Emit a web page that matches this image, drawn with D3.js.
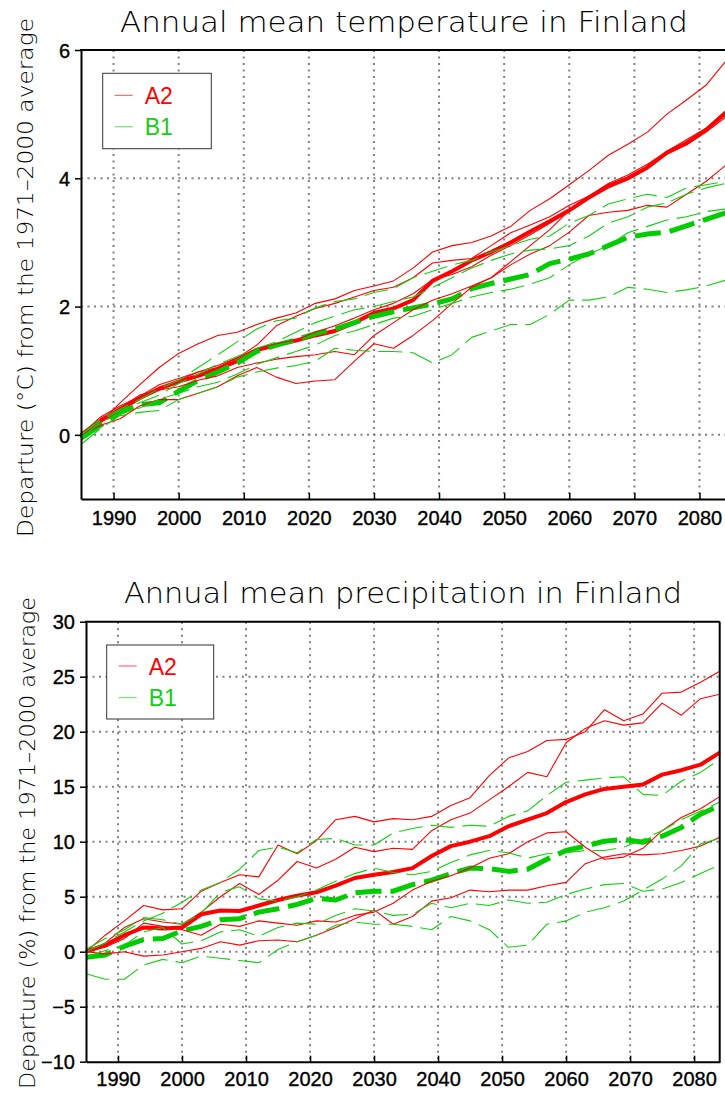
<!DOCTYPE html>
<html><head><meta charset="utf-8">
<script src="https://cdn.jsdelivr.net/npm/d3@7"></script>
<style>body{margin:0;background:#fff}svg{display:block}</style>
</head><body>
<svg id="c" width="725" height="1093"></svg>
<script>
// ---------- DATA ----------
const years = [1985,1988,1991,1994,1997,2000,2003,2006,2009,2012,2015,2018,2021,2024,2027,2030,2033,2036,2039,2042,2045,2048,2051,2054,2057,2060,2063,2066,2069,2072,2075,2078,2081,2084];
const xTicks = [1990,2000,2010,2020,2030,2040,2050,2060,2070,2080];
const tempTicks = [0,2,4,6];
const precTicks = [-10,-5,0,5,10,15,20,25,30];
const legendLabels = ["A2","B1"];

// Temperature (°C departure)
const tempA2Mean = [0,0.22,0.40,0.57,0.72,0.83,0.92,1.03,1.15,1.32,1.40,1.47,1.55,1.62,1.75,1.90,1.97,2.10,2.40,2.55,2.72,2.85,3.00,3.17,3.33,3.50,3.70,3.88,4.00,4.17,4.40,4.55,4.75,5.02];
const tempA2Run1 = [0,0.20,0.50,0.78,1.05,1.27,1.42,1.55,1.60,1.72,1.82,1.90,2.05,2.12,2.25,2.32,2.40,2.60,2.85,2.95,3.00,3.10,3.25,3.50,3.68,3.90,4.12,4.36,4.53,4.72,5.00,5.22,5.45,5.82];
const tempA2Run2 = [0,0.20,0.38,0.58,0.72,0.85,0.98,1.08,1.20,1.40,1.70,1.85,1.97,2.05,2.15,2.25,2.30,2.45,2.68,2.72,2.75,2.95,3.15,3.27,3.40,3.58,3.72,3.88,4.02,4.18,4.40,4.56,4.78,5.05];
const tempA2Run3 = [0,0.25,0.42,0.62,0.70,0.75,0.85,0.92,1.05,1.12,1.18,1.22,1.25,1.30,1.25,1.55,1.75,1.95,2.10,2.20,2.32,2.45,2.70,2.95,3.20,3.50,3.72,3.92,4.05,4.22,4.42,4.60,4.78,4.98];
const tempA2Run4 = [0,0.15,0.25,0.45,0.55,0.55,0.65,0.75,0.92,1.05,0.90,0.80,0.84,0.86,1.15,1.42,1.35,1.55,1.78,2.05,2.30,2.45,2.65,2.82,2.95,3.16,3.42,3.47,3.50,3.58,3.55,3.75,3.95,4.20];
const tempA2Run5 = [0,0.28,0.45,0.60,0.78,0.88,0.98,1.05,1.20,1.35,1.42,1.48,1.60,1.70,1.82,1.95,2.05,2.20,2.42,2.50,2.62,2.80,2.95,3.12,3.30,3.48,3.68,3.85,3.98,4.15,4.38,4.52,4.72,4.95];
const tempB1Mean = [-0.05,0.15,0.35,0.47,0.50,0.68,0.85,0.98,1.12,1.30,1.40,1.48,1.58,1.65,1.75,1.85,1.92,1.98,2.04,2.12,2.28,2.36,2.43,2.50,2.67,2.74,2.82,2.95,3.08,3.13,3.16,3.26,3.36,3.46];
const tempB1Run1 = [0,0.25,0.40,0.55,0.72,0.85,1.05,1.25,1.45,1.65,1.78,1.82,1.98,2.08,2.12,2.22,2.28,2.45,2.55,2.65,2.72,2.85,2.95,3.05,3.10,3.30,3.42,3.60,3.68,3.75,3.70,3.85,3.90,3.95];
const tempB1Run2 = [0,0.22,0.38,0.50,0.62,0.80,0.95,1.10,1.22,1.35,1.45,1.60,1.75,1.85,1.95,2.00,2.08,2.15,2.30,2.45,2.60,2.72,2.82,2.88,2.90,2.95,3.10,3.30,3.40,3.55,3.62,3.75,3.85,3.92];
const tempB1Run3 = [-0.05,0.20,0.32,0.42,0.55,0.65,0.75,0.82,0.95,1.10,1.20,1.30,1.40,1.55,1.62,1.72,1.82,1.85,1.95,2.05,2.15,2.22,2.27,2.35,2.45,2.65,2.82,2.95,3.15,3.25,3.35,3.40,3.48,3.52];
const tempB1Run4 = [-0.15,0.10,0.30,0.35,0.38,0.55,0.65,0.75,0.90,0.98,1.04,1.08,1.15,1.35,1.32,1.30,1.30,1.28,1.12,1.25,1.52,1.62,1.72,1.72,1.88,2.10,2.10,2.15,2.30,2.27,2.22,2.26,2.32,2.41];

// Precipitation (% departure)
const precA2Mean = [0,0.6,1.5,2.2,2.1,2.2,3.4,3.75,3.7,4.2,4.7,5.1,5.4,6.0,6.7,7.0,7.25,7.6,8.7,9.6,10.0,10.5,11.4,12.0,12.6,13.6,14.3,14.8,15.0,15.2,16.1,16.5,17.0,18.1];
const precA2Run1 = [0,1.5,2.8,4.2,3.8,3.9,5.5,6.3,7.0,6.8,9.7,8.9,10.1,12.0,12.3,11.8,12.1,12.0,12.3,13.3,14.0,16.0,17.6,18.2,19.2,19.3,20.0,22.0,21.0,21.6,23.5,23.6,24.5,25.5];
const precA2Run2 = [0,0.8,2.2,3.0,2.7,2.5,3.6,5.0,6.2,5.2,6.5,8.2,7.6,8.4,9.5,9.1,9.4,9.3,11.0,12.0,12.6,13.8,15.0,16.3,15.9,19.0,20.3,21.0,20.6,20.8,22.6,21.5,23.0,23.4];
const precA2Run3 = [0,0.4,1.2,2.6,2.3,2.0,1.5,2.5,2.3,2.8,2.6,2.4,2.8,2.7,3.3,3.6,4.4,5.6,6.4,6.9,7.6,8.5,8.9,10.0,10.8,10.9,9.5,8.4,8.6,9.4,11.0,12.2,13.0,14.1];
const precA2Run4 = [0,-0.2,0.0,-0.4,-0.3,0.0,0.3,0.9,0.6,1.0,1.06,0.9,1.5,2.2,3.0,3.8,2.5,3.2,4.6,4.9,5.6,5.45,5.6,5.6,6.0,6.3,8.0,8.6,8.9,8.8,8.9,9.2,9.6,10.4];
const precB1Mean = [-0.5,-0.3,0.5,1.1,1.2,1.9,2.3,2.9,3.0,3.6,3.9,4.3,4.85,4.7,5.35,5.5,5.5,6.1,6.5,7.1,7.6,7.55,7.3,7.5,8.4,9.2,9.6,10.05,10.2,9.95,10.5,11.3,12.5,13.3];
const precB1Run1 = [0.0,0.8,1.8,2.8,3.5,4.5,5.6,6.3,7.5,9.2,9.5,9.0,10.2,10.3,9.7,9.7,10.8,11.2,11.5,11.3,11.5,11.4,12.3,12.8,14.2,15.4,15.6,15.8,15.9,14.3,14.2,15.5,16.3,17.5];
const precB1Run2 = [0.2,1.2,2.0,3.1,2.9,2.5,3.5,5.4,5.9,4.8,4.6,5.0,5.6,6.4,7.1,7.6,7.2,7.0,7.3,8.1,8.8,9.2,9.0,8.5,8.9,9.0,9.2,9.2,9.5,10.2,11.0,12.0,12.8,13.6];
const precB1Run3 = [-0.5,0.1,0.6,1.8,2.2,0.7,1.0,1.8,2.0,1.4,2.2,2.6,2.5,3.3,3.9,3.7,3.3,3.4,4.4,4.0,4.4,4.2,4.7,4.4,4.5,5.2,5.7,6.1,6.2,5.5,5.7,6.3,7.1,7.9];
const precB1Run4 = [-2.0,-2.5,-2.5,-1.2,-0.7,-1.0,-0.4,-0.6,-0.8,-1.0,0.2,0.9,1.5,2.4,2.7,2.5,2.5,2.3,2.0,3.2,2.8,2.0,0.4,0.6,2.5,2.8,3.6,4.0,4.6,5.6,6.6,7.8,9.8,10.3];

// ---------- STYLE ----------
const RED = "#ff0000", GREEN = "#10d010", GREEN_THICK = "#00cc00";
const svg = d3.select("#c");

function panel(o){
  const x = d3.scaleLinear().domain([1985,2084]).range([o.left,o.right]);
  const y = d3.scaleLinear().domain(o.yDomain).range([o.bottom,o.top]);
  const g = svg.append("g");

  // grid
  g.append("g").selectAll("line").data(xTicks).join("line")
    .attr("x1",d=>x(d)).attr("x2",d=>x(d)).attr("y1",o.top).attr("y2",o.bottom)
    .attr("stroke","#808080").attr("stroke-width",2).attr("stroke-dasharray","2,4.5");
  g.append("g").selectAll("line").data(o.yTicks.filter(d=>d>o.yDomain[0]&&d<o.yDomain[1])).join("line")
    .attr("x1",o.left).attr("x2",o.right).attr("y1",d=>y(d)).attr("y2",d=>y(d))
    .attr("stroke","#808080").attr("stroke-width",2).attr("stroke-dasharray","2,4.5");

  const line = d3.line().x(d=>x(d[0])).y(d=>y(d[1]));
  const draw = (vals, color, width, dash) => {
    g.append("path").datum(d3.zip(years, vals)).attr("d", line)
      .attr("fill","none").attr("stroke",color).attr("stroke-width",width)
      .attr("stroke-linejoin","round").attr("stroke-dasharray", dash || null);
  };
  draw(o.a2Mean, RED, 4);
  draw(o.b1Mean, GREEN_THICK, 5, "26,9");
  o.a2Runs.forEach(v=>draw(v, RED, 1.1));
  o.b1Runs.forEach(v=>draw(v, GREEN, 1.1, "24,8"));

  // axes
  const ax = g.append("g").attr("transform",`translate(${o.left},0)`)
    .call(d3.axisLeft(y).tickValues(o.yTicks).tickFormat(d3.format("d")).tickSizeInner(6).tickSizeOuter(0).tickPadding(5));
  const bx = g.append("g").attr("transform",`translate(0,${o.bottom})`)
    .call(d3.axisBottom(x).tickValues(xTicks).tickFormat(d3.format("d")).tickSizeInner(-6).tickSizeOuter(0));
  [ax,bx].forEach(a=>{
    a.select(".domain").attr("stroke","#000").attr("stroke-width",2);
    a.selectAll(".tick line").attr("stroke","#000").attr("stroke-width",1.5);
    a.selectAll("text").attr("font-family","Liberation Sans, Arial, sans-serif").attr("font-size",20)
      .attr("fill","#000").attr("stroke","#000").attr("stroke-width",0.35);
  });
  bx.selectAll("text").attr("y", o.xLabelDy).attr("dy",0);
  ax.selectAll("text").attr("dy","0.36em");

  // frame
  g.append("line").attr("x1",o.left-1).attr("x2",o.right).attr("y1",o.top).attr("y2",o.top).attr("stroke","#000").attr("stroke-width",2);
  if(o.rightFrame) g.append("line").attr("x1",o.right).attr("x2",o.right).attr("y1",o.top).attr("y2",o.bottom+1).attr("stroke","#000").attr("stroke-width",2);

  // legend
  const L = o.legend;
  g.append("rect").attr("x",L.x).attr("y",L.y).attr("width",L.w).attr("height",L.h)
    .attr("fill","#fff").attr("stroke","#333").attr("stroke-width",1);
  [RED, GREEN].forEach((c,i)=>{
    const yy = L.y + L.rows[i];
    g.append("line").attr("x1",L.x+12).attr("x2",L.x+30).attr("y1",yy).attr("y2",yy)
      .attr("stroke",c).attr("stroke-width",1).attr("opacity",0.7);
    g.append("text").attr("x",L.x+42).attr("y",yy+8.5).text(legendLabels[i])
      .attr("font-family","Liberation Sans, Arial, sans-serif").attr("font-size",23).attr("fill",c);
  });

  // titles
  g.append("text").attr("x",o.titleX).attr("y",o.titleY).attr("text-anchor","middle")
    .attr("font-family","DejaVu Sans, sans-serif").attr("font-weight",200).attr("font-size",29)
    .attr("textLength",o.titleLen).attr("lengthAdjust","spacingAndGlyphs").attr("fill","#000").text(o.title);
  g.append("text").attr("transform",`translate(${o.ytX},${o.ytY}) rotate(-90)`).attr("text-anchor","middle")
    .attr("font-family","DejaVu Sans, sans-serif").attr("font-weight",200).attr("font-size",20.5)
    .attr("textLength",o.ytLen).attr("lengthAdjust","spacingAndGlyphs").attr("fill","#000").text(o.ytitle);
}

panel({
  left:81, right:725.5, top:50, bottom:499, yDomain:[-1,6], yTicks:tempTicks, xLabelDy:26,
  a2Mean:tempA2Mean, b1Mean:tempB1Mean,
  a2Runs:[tempA2Run1,tempA2Run2,tempA2Run3,tempA2Run4,tempA2Run5],
  b1Runs:[tempB1Run1,tempB1Run2,tempB1Run3,tempB1Run4],
  legend:{x:102.7,y:73.3,w:108.6,h:75.4,rows:[22,53.5]},
  title:"Annual mean temperature in Finland", titleX:404, titleY:32, titleLen:568,
  ytitle:"Departure (°C) from the 1971–2000 average", ytX:33, ytY:277.5, ytLen:519,
  rightFrame:false
});
panel({
  left:86, right:719.7, top:621.7, bottom:1061.7, yDomain:[-10,30], yTicks:precTicks, xLabelDy:24.5,
  a2Mean:precA2Mean, b1Mean:precB1Mean,
  a2Runs:[precA2Run1,precA2Run2,precA2Run3,precA2Run4],
  b1Runs:[precB1Run1,precB1Run2,precB1Run3,precB1Run4],
  legend:{x:106.7,y:645,w:107,h:74,rows:[21,52.7]},
  title:"Annual mean precipitation in Finland", titleX:403, titleY:603, titleLen:558,
  ytitle:"Departure (%) from the 1971–2000 average", ytX:35, ytY:843, ytLen:492,
  rightFrame:true
});
</script>
</body></html>
